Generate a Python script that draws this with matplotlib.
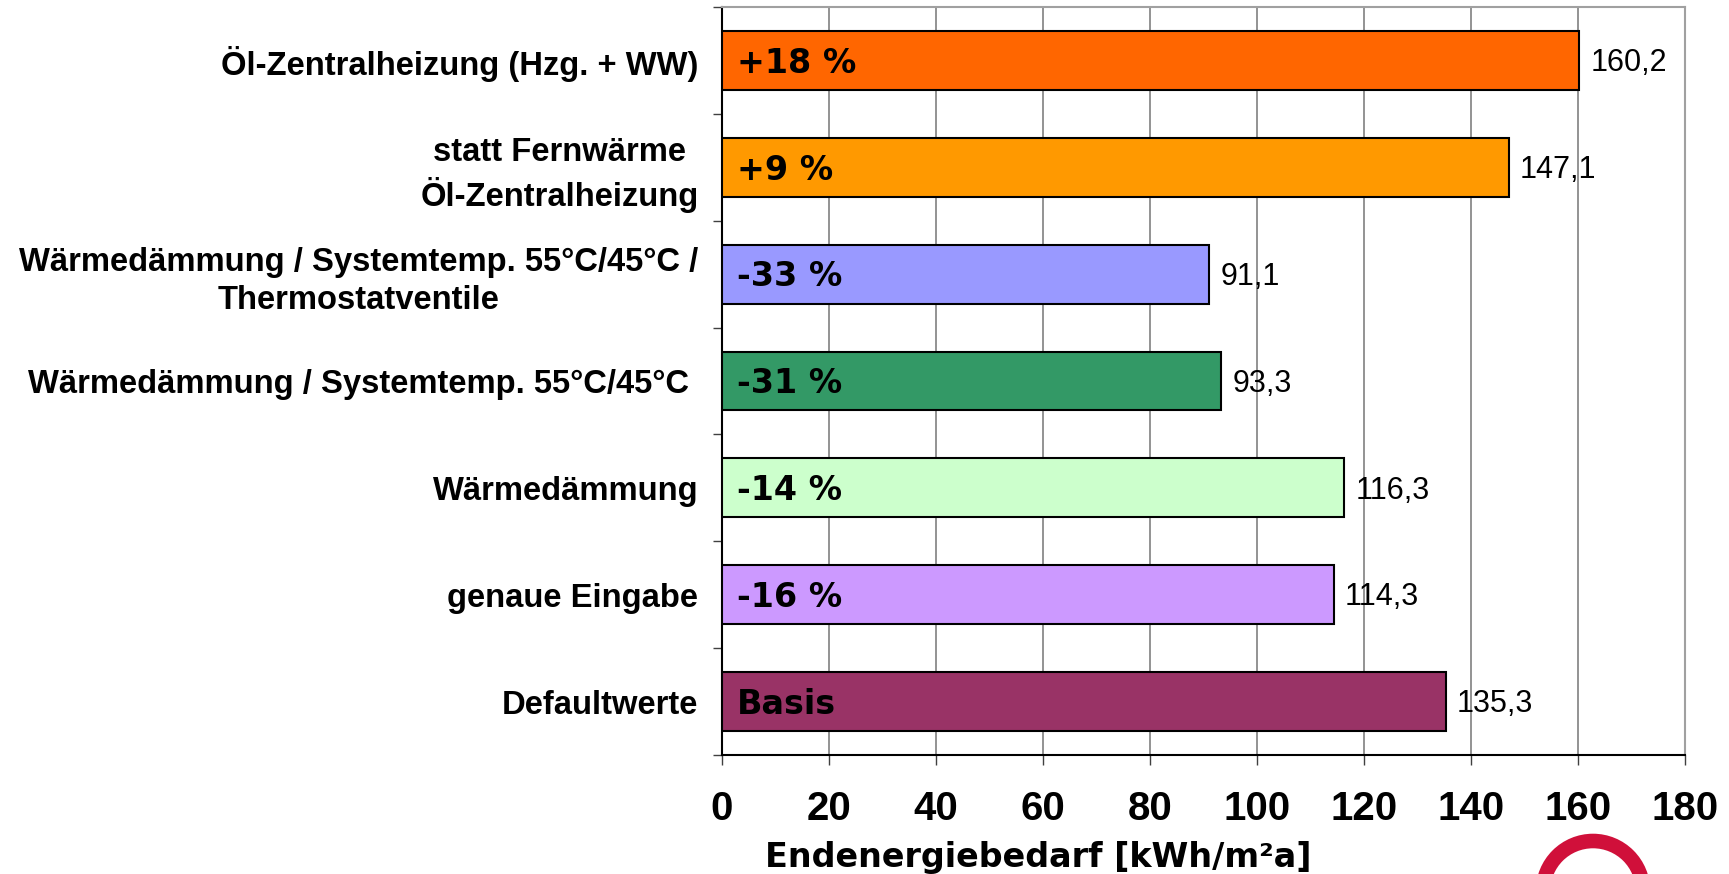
import matplotlib
matplotlib.use("Agg")
import matplotlib.pyplot as plt
from matplotlib.patches import Circle
import numpy as np

categories = [
    "Öl-Zentralheizung (Hzg. + WW)",
    "statt Fernwärme\nÖl-Zentralheizung",
    "Wärmedämmung / Systemtemp. 55°C/45°C /\nThermostatventile",
    "Wärmedämmung / Systemtemp. 55°C/45°C ",
    "Wärmedämmung",
    "genaue Eingabe",
    "Defaultwerte",
]
values = [160.2, 147.1, 91.1, 93.3, 116.3, 114.3, 135.3]
value_labels = ["160,2", "147,1", "91,1", "93,3", "116,3", "114,3", "135,3"]
change_labels = ["+18 %", "+9 %", "-33 %", "-31 %", "-14 %", "-16 %", "Basis"]
colors = ["#FF6600", "#FF9900", "#9999FF", "#339966", "#CCFFCC", "#CC99FF", "#993366"]
xticks = [0, 20, 40, 60, 80, 100, 120, 140, 160, 180]
xlabel = "Endenergiebedarf [kWh/m²a]"

narrow = ["Liberation Sans Narrow", "Liberation Sans", "DejaVu Sans"]
arial = ["Liberation Sans", "DejaVu Sans"]
verdana = ["DejaVu Sans"]

fig = plt.figure(figsize=(17.29, 8.74), dpi=100)
ax = fig.add_axes([722 / 1729, 119 / 874, (1685 - 722) / 1729, (755 - 7) / 874])

y = np.arange(len(categories))
ax.barh(y, values, height=0.55, color=colors, edgecolor="black", linewidth=1.5, zorder=3)

for yi, v, vl, cl in zip(y, values, value_labels, change_labels):
    ax.annotate(vl, (v, yi), xytext=(8, -2), textcoords="offset points",
                ha="left", va="center", fontsize=22, family=arial, zorder=4)
    ax.annotate(cl, (0, yi), xytext=(11, -2), textcoords="offset points",
                ha="left", va="center", fontsize=24, fontweight="bold",
                family=verdana, zorder=4)

ax.set_xlim(0, 180)
ax.set_ylim(len(categories) - 0.5, -0.5)
ax.set_xticks(xticks)
ax.set_xticklabels([str(t) for t in xticks], fontsize=29, fontweight="bold", family=narrow)
ax.set_yticks(y)
ax.set_yticklabels(categories, fontsize=23.6, fontweight="bold", family=narrow,
                   multialignment="center", linespacing=1.3)
ax.set_yticks(np.arange(len(categories) + 1) - 0.5, minor=True)
ax.tick_params(axis="y", which="major", length=0, pad=17)
ax.tick_params(axis="y", which="minor", length=6.5, width=1, color="#404040", direction="out")
ax.tick_params(axis="x", which="major", length=7, width=1, color="#404040", direction="out", pad=18)

ax.grid(axis="x", color="#808080", linewidth=1.2, zorder=0)
ax.set_axisbelow(True)
for s in ["top", "right"]:
    ax.spines[s].set_color("#A0A0A0")
    ax.spines[s].set_linewidth(1.5)
for s in ["left", "bottom"]:
    ax.spines[s].set_color("black")
    ax.spines[s].set_linewidth(1.5)

fig.text(1038 / 1729, 7 / 874, xlabel, ha="center", va="baseline",
         fontsize=24, fontweight="bold", family=verdana)

ring = Circle((15.93, -0.17), 0.50, transform=fig.dpi_scale_trans, fill=False,
              edgecolor="#D0103A", linewidth=10.5, clip_on=False)
fig.add_artist(ring)

fig.savefig("out.png", dpi=100)
